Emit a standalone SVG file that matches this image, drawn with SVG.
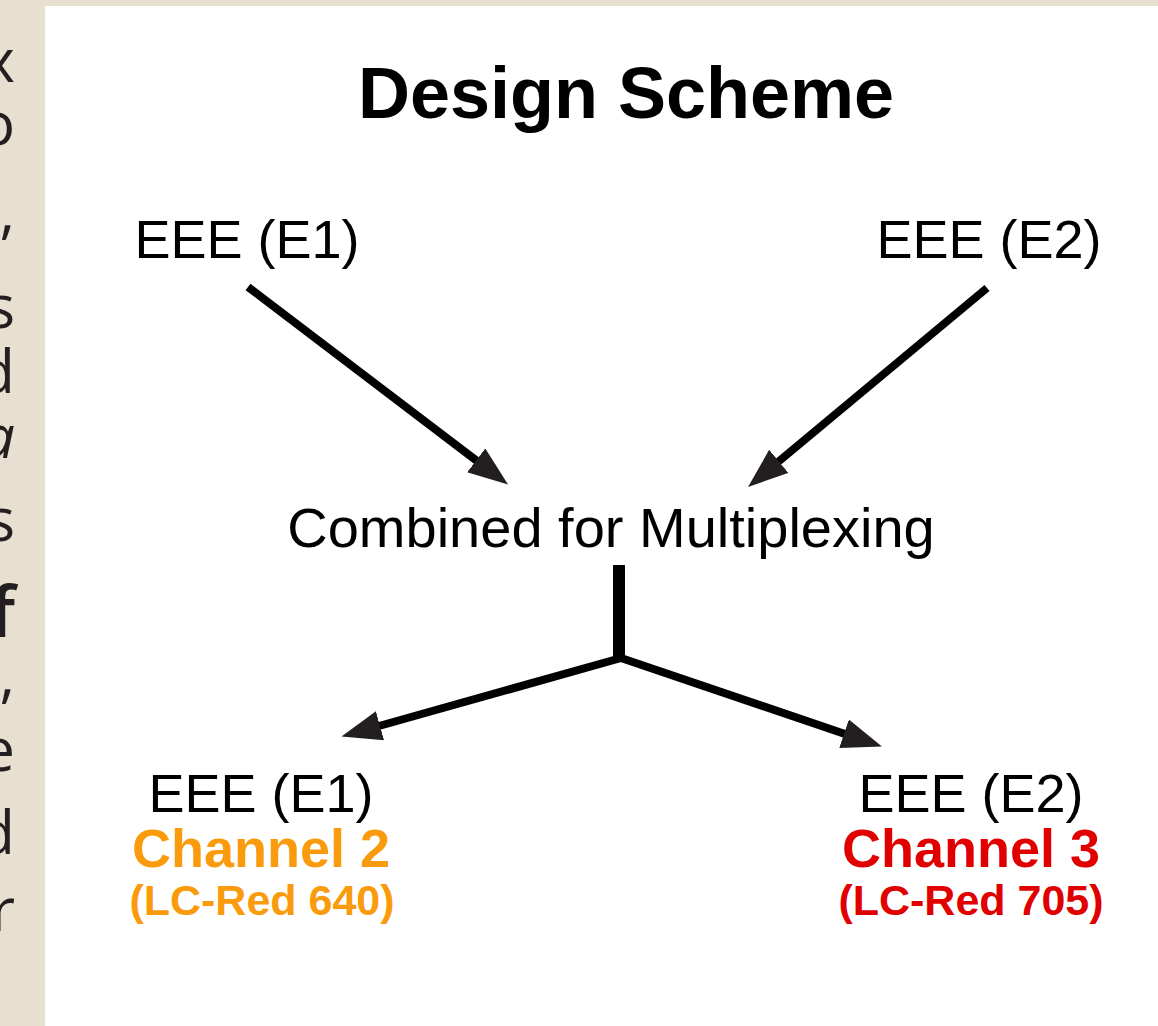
<svg xmlns="http://www.w3.org/2000/svg" width="1158" height="1026" viewBox="0 0 1158 1026">
<style>
.side{font-family:"Open Sans","Liberation Sans",sans-serif;font-size:60px;fill:#231f20;text-anchor:end}
.lbl{font-family:"Liberation Sans",Arial,sans-serif;fill:#000;text-anchor:middle}
.reg{font-size:54px}
.ch{font-size:54px;font-weight:bold}
.sub{font-size:43px;font-weight:bold}
.conn{stroke:#000;stroke-width:8;fill:none}
</style>
<defs>
<marker id="ah" markerUnits="userSpaceOnUse" markerWidth="44" markerHeight="34" refX="1" refY="15" orient="auto">
<path d="M0,0 L40,15 L0,30 Z" fill="#231f20"/>
</marker>
</defs>
<rect x="0" y="0" width="1158" height="1026" fill="#e7dfd0"/>
<rect x="45" y="6" width="1113" height="1020" fill="#fff"/>
<g id="side-text">
<text class="side" x="15" y="82">x</text>
<text class="side" x="15" y="145">o</text>
<text class="side" x="15" y="232">,</text>
<text class="side" x="15" y="328">s</text>
<text class="side" x="15" y="393">d</text>
<text class="side" x="15" y="458" style="font-style:italic">a</text>
<text class="side" x="15" y="637" style="font-weight:600;font-size:70px">f</text>
<text class="side" x="15" y="541">s</text>
<text class="side" x="15" y="696">,</text>
<text class="side" x="15" y="771">e</text>
<text class="side" x="15" y="854">d</text>
<text class="side" x="15" y="931">r</text>
</g>
<g id="title"><text class="lbl" x="626" y="118" font-size="72" font-weight="bold">Design Scheme</text></g>
<g id="n-e1-top"><text class="lbl reg" x="247" y="258">EEE (E1)</text></g>
<g id="n-e2-top"><text class="lbl reg" x="989" y="258">EEE (E2)</text></g>
<g id="n-combined"><text class="lbl" x="611" y="547" font-size="56">Combined for Multiplexing</text></g>
<g id="n-e1-bottom">
<text class="lbl reg" x="261" y="812">EEE (E1)</text>
<text class="lbl ch" x="261" y="867" style="fill:#f99b0c">Channel 2</text>
<text class="lbl sub" x="262" y="915" style="fill:#f99b0c">(LC-Red 640)</text>
</g>
<g id="n-e2-bottom">
<text class="lbl reg" x="971" y="812">EEE (E2)</text>
<text class="lbl ch" x="971" y="867" style="fill:#e00000">Channel 3</text>
<text class="lbl sub" x="971" y="915" style="fill:#e00000">(LC-Red 705)</text>
</g>
<g id="connectors">
<line class="conn" x1="248" y1="287" x2="477" y2="461" marker-end="url(#ah)"/>
<line class="conn" x1="987" y1="288" x2="778" y2="462" marker-end="url(#ah)"/>
<line x1="619" y1="565" x2="619" y2="660" stroke="#000" stroke-width="12"/>
<line class="conn" x1="621" y1="658" x2="845" y2="734" marker-end="url(#ah)"/>
<line class="conn" x1="621" y1="658" x2="379" y2="726" marker-end="url(#ah)"/>
</g>
</svg>
